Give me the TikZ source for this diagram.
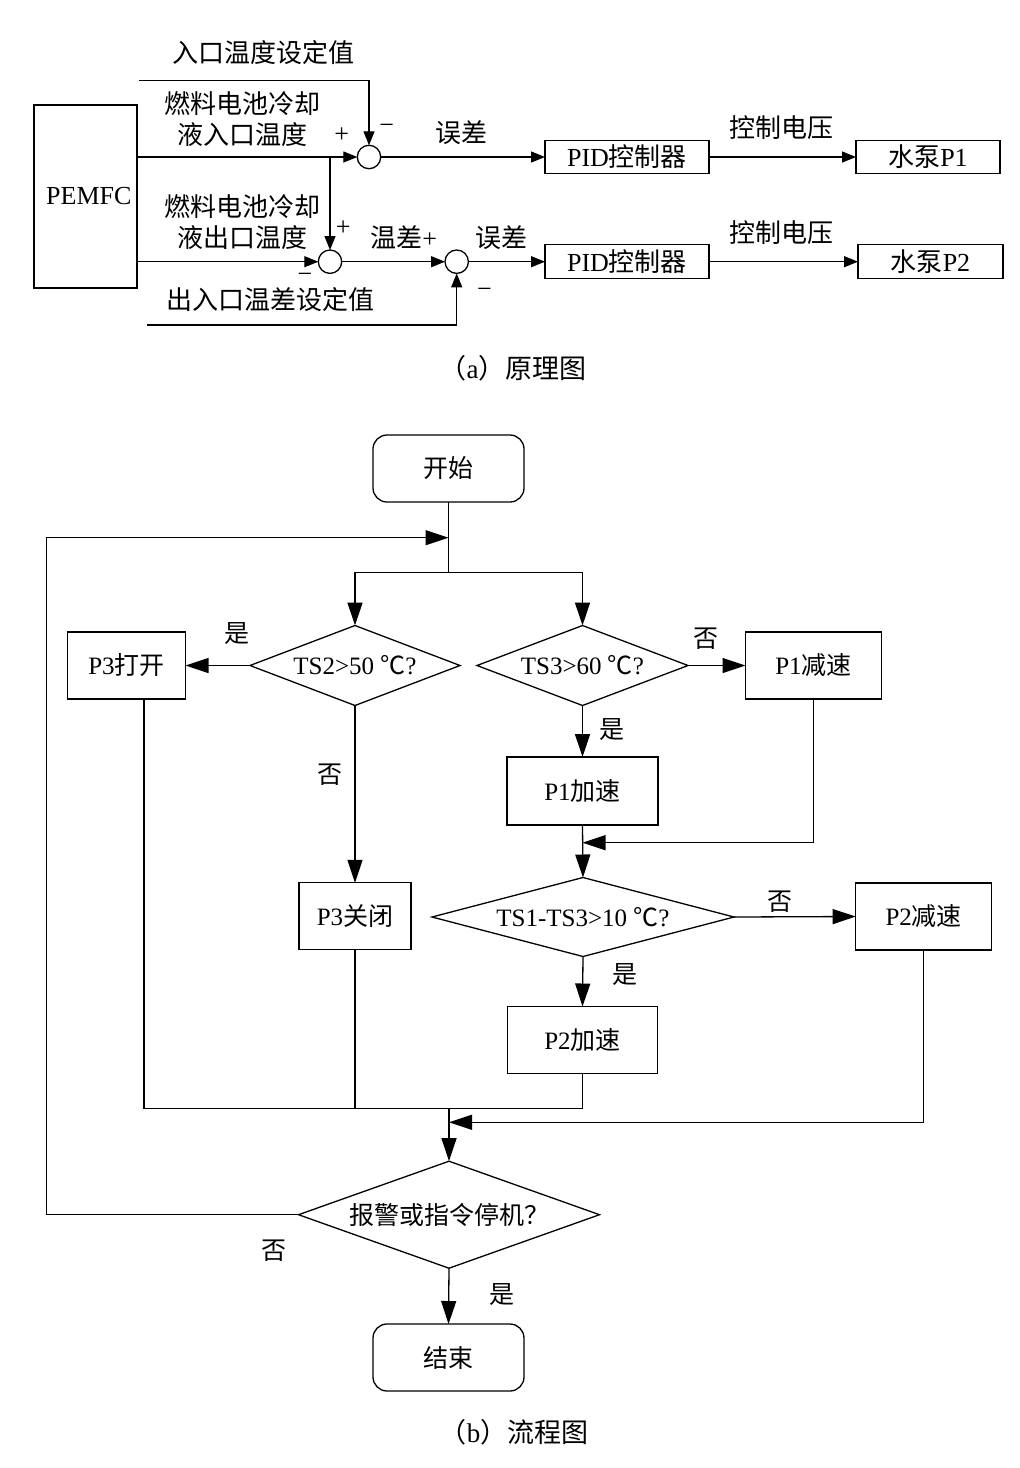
\documentclass[tikz,border=0pt]{standalone}
\usepackage{fontspec}
\setmainfont{Liberation Serif}
\newfontfamily\cjk{Noto Sans CJK SC}
\usetikzlibrary{arrows.meta,shapes.geometric,calc}
\begin{document}
\begin{tikzpicture}[x=1pt,y=-1pt,line width=1.3pt,
  every node/.style={font=\fontsize{26}{31}\selectfont,inner sep=0pt,outer sep=0pt},
  fnode/.style={font=\fontsize{25}{30}\selectfont},
  box/.style={draw,rectangle,line width=1.3pt},
  rbox/.style={draw,rectangle,rounded corners=14pt,line width=1.3pt,fnode},
  fbox/.style={box,fnode},
  dia/.style={draw,diamond,line width=1.3pt,fnode},
  sumc/.style={draw,circle,minimum size=23.4pt,line width=1.3pt},
  arrA/.style={-{Triangle[length=14pt,width=11pt]}},
  arrB/.style={-{Triangle[length=23pt,width=15pt]}},
  lbl/.style={fnode}
]
\fill[white] (0,0) rectangle (1020,1468);
\useasboundingbox (0,0) rectangle (1020,1468);

% ---------------- (a) ----------------
\node[box,minimum width=103pt,minimum height=183pt] (pem) at (85.5,196.5) {};
\node (pemt) at (88.8,196) {PEMFC};
\node[sumc] (c1) at (369,157) {};
\node[sumc] (c2) at (330,261.7) {};
\node[sumc] (c3) at (456.7,261.7) {};
\node[box,minimum width=164pt,minimum height=33pt] (pid1) at (627,157) {PID{\cjk 控制器}};
\node[box,minimum width=164pt,minimum height=34pt] (pid2) at (627,261.7) {PID{\cjk 控制器}};
\node[box,minimum width=144pt,minimum height=33pt] (pp1) at (928,157) {{\cjk 水泵}P1};
\node[box,minimum width=145pt,minimum height=34pt] (pp2) at (930.5,261.7) {{\cjk 水泵}P2};

\coordinate (tops) at (139,80.7);
\coordinate (bots) at (147,325);
\coordinate (br) at (330,157);

\draw[arrA] (tops) -| (c1.north);
\draw[arrA] (pem.east |- c1.west) -- (c1.west);
\draw[arrA] (br) -- (c2.north);
\draw[arrA] (pem.east |- c2.west) -- (c2.west);
\draw[arrA] (c2.east) -- (c3.west);
\draw[arrA] (bots) -| (c3.south);
\draw[arrA] (c1.east) -- (pid1.west);
\draw[arrA] (c3.east) -- (pid2.west);
\draw[arrA] (pid1.east) -- (pp1.west);
\draw[arrA] (pid2.east) -- (pp2.west);

\node (la1) at (263,52.5) {\cjk 入口温度设定值};
\node[align=center] (la2) at (242,119.5) {\cjk 燃料电池冷却\\\cjk 液入口温度};
\node[align=center] (la3) at (242,222.5) {\cjk 燃料电池冷却\\\cjk 液出口温度};
\node (la4) at (270.3,300) {\cjk 出入口温差设定值};
\node (sp1) at (341.7,135) {+};
\node (sm1) at (386.7,129) {−};
\node (sp2) at (343.3,228.3) {+};
\node (sm2) at (305,278) {−};
\node (sm3) at (484.5,292.7) {−};
\node (le1) at (461.7,132.5) {\cjk 误差};
\node (lt) at (403.7,237.5) {{\cjk 温差}+};
\node (le2) at (501.5,237.5) {\cjk 误差};
\node (lv1) at (781.7,127.5) {\cjk 控制电压};
\node (lv2) at (781.7,232.5) {\cjk 控制电压};
\node[font=\fontsize{27}{31}\selectfont] (capa) at (513,368) {{\cjk （}a{\cjk ）原理图}};

% ---------------- (b) ----------------
\node[rbox,minimum width=151pt,minimum height=67pt] (st) at (448.5,468.5) {\cjk 开始};
\node[dia,shape aspect=2.625,minimum width=210pt,minimum height=80pt] (d1) at (355,665.5) {TS2>50 {\cjk ℃}?};
\node[dia,shape aspect=2.64,minimum width=211pt,minimum height=80pt] (d2) at (582.5,665.5) {TS3>60 {\cjk ℃}?};
\node[fbox,minimum width=118pt,minimum height=67pt] (p3o) at (126.5,665.5) {P3{\cjk 打开}};
\node[fbox,minimum width=136pt,minimum height=67pt] (p1d) at (813.5,665.5) {P1{\cjk 减速}};
\node[fbox,minimum width=151pt,minimum height=68pt] (p1a) at (582.5,791) {P1{\cjk 加速}};
\node[dia,shape aspect=3.82,minimum width=302pt,minimum height=79pt] (d3) at (583,917) {TS1-TS3>10 {\cjk ℃}?};
\node[fbox,minimum width=112pt,minimum height=67pt] (p3c) at (355,916.3) {P3{\cjk 关闭}};
\node[fbox,minimum width=136pt,minimum height=67pt] (p2d) at (923.7,916.5) {P2{\cjk 减速}};
\node[fbox,minimum width=150pt,minimum height=67pt] (p2a) at (582.5,1040) {P2{\cjk 加速}};
\node[dia,shape aspect=2.81,minimum width=301pt,minimum height=107pt] (d4) at (449,1214.7) {\cjk 报警或指令停机？};
\node[rbox,minimum width=151pt,minimum height=67pt] (en) at (448.5,1357.5) {\cjk 结束};

\coordinate (sp) at (448.5,572.7);
\coordinate (lj) at (448.5,537.7);
\coordinate (lx) at (46.8,537.7);
\coordinate (j1) at (582.5,842.7);
\coordinate (mrg) at (449,1108.3);
\coordinate (j2) at (449,1122.3);
\coordinate (p3ob) at ([xshift=17.5pt]p3o.south);

\draw (st.south) -- (sp);
\draw[arrB] (sp) -| (d1.north);
\draw[arrB] (sp) -| (d2.north);
\draw[arrB] (d4.west) -| (lx) -- (lj);
\draw[arrB] (d1.west) -- (p3o.east);
\draw[arrB] (d1.south) -- (p3c.north);
\draw[arrB] (d2.east) -- (p1d.west);
\draw[arrB] (d2.south) -- (p1a.north);
\draw[arrB] (p1a.south) -- (d3.north);
\draw[arrB] (p1d.south) |- (j1);
\draw[arrB] (d3.east) -- (p2d.west);
\draw[arrB] (d3.south) -- (p2a.north);
\draw (p3ob) |- (p2a.south |- mrg) -- (p2a.south);
\draw (p3c.south) -- (p3c.south |- mrg);
\draw[arrB] (mrg) -- (d4.north);
\draw[arrB] (p2d.south) |- (j2);
\draw[arrB] (d4.south) -- (en.north);

\node[lbl] (y1) at (237,634) {\cjk 是};
\node[lbl] (n1) at (330,775) {\cjk 否};
\node[lbl] (n2) at (706,639) {\cjk 否};
\node[lbl] (y2) at (611.8,730) {\cjk 是};
\node[lbl] (n3) at (780,902) {\cjk 否};
\node[lbl] (y3) at (625,975) {\cjk 是};
\node[lbl] (n4) at (274,1251) {\cjk 否};
\node[lbl] (y4) at (502,1295) {\cjk 是};
\node[font=\fontsize{27}{31}\selectfont] (capb) at (514,1432) {{\cjk （}b{\cjk ）流程图}};
\end{tikzpicture}
\end{document}
